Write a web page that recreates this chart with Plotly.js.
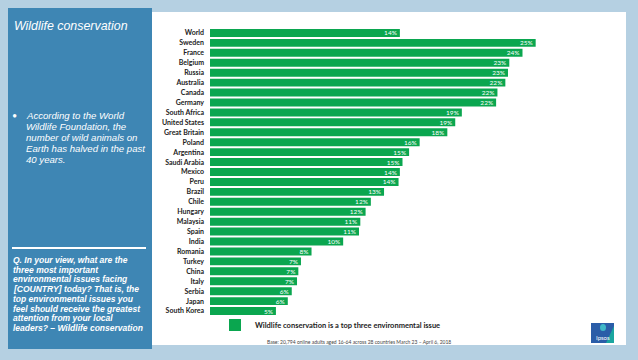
<!DOCTYPE html>
<html>
<head>
<meta charset="utf-8">
<script src="https://cdn.plot.ly/plotly-3.0.1.min.js"></script>
<style>html,body{margin:0;padding:0;background:#b5d0e2;}#chart{width:638px;height:360px;}</style>
</head>
<body>
<div id="chart"></div>
<script>
// ---- data ----
const countries = ["World","Sweden","France","Belgium","Russia","Australia","Canada","Germany","South Africa","United States","Great Britain","Poland","Argentina","Saudi Arabia","Mexico","Peru","Brazil","Chile","Hungary","Malaysia","Spain","India","Romania","Turkey","China","Italy","Serbia","Japan","South Korea"];
const shares = [14.4,24.7,23.7,22.7,22.6,22.4,21.8,21.7,19.1,18.6,18.0,15.9,15.1,14.6,14.4,14.3,13.2,12.2,11.8,11.4,11.3,10.1,7.7,6.9,6.7,6.6,6.2,5.9,5.0];
const seriesName = "Wildlife conservation is a top three environmental issue";
const panelTitle = "Wildlife conservation";
const bulletLines = ["According to the World","Wildlife Foundation, the","number of wild animals on","Earth has halved in the past","40 years."];
const questionLines = ["Q. In your view, what are the","three most important","environmental issues facing","[COUNTRY] today? That is, the","top environmental issues you","feel should receive the greatest","attention from your local","leaders? – Wildlife conservation"];
const baseNote = "Base: 20,794 online adults aged 16-64 across 28 countries March 23 – April 6, 2018";

// ---- layout geometry (pixels -> paper) ----
const W = 638, H = 360, mL = 210, mR = 72, mT = 28, mB = 44;
const pw = W - mL - mR, ph = H - mT - mB;
const X = px => (px - mL) / pw;
const Y = py => (H - mB - py) / ph;

const GREEN = "#0aa64f", BLUE = "#3e86b4", LIGHT = "#b5d0e2";
const FONT = "Lato, 'Open Sans', sans-serif";
const IFONT = "'Liberation Sans', 'DejaVu Sans', sans-serif";

const shapes = [
  {type:"rect", xref:"paper", yref:"paper", x0:X(0), x1:X(W), y0:Y(H), y1:Y(0), fillcolor:LIGHT, line:{width:0}, layer:"below"},
  {type:"rect", xref:"paper", yref:"paper", x0:X(8), x1:X(626), y0:Y(345), y1:Y(12), fillcolor:"#ffffff", line:{width:0}, layer:"below"},
  {type:"rect", xref:"paper", yref:"paper", x0:X(8), x1:X(152), y0:Y(349), y1:Y(8), fillcolor:BLUE, line:{width:0}, layer:"below"},
  {type:"line", xref:"paper", yref:"paper", x0:X(12), x1:X(146), y0:Y(248), y1:Y(248), line:{color:"#ffffff", width:2}},
  // Ipsos logo
  {type:"rect", xref:"paper", yref:"paper", x0:X(591), x1:X(614), y0:Y(343), y1:Y(323), fillcolor:"#2a5da8", line:{width:0}},
  {type:"path", xref:"paper", yref:"paper", path:`M ${X(606)} ${Y(343)} L ${X(614)} ${Y(343)} L ${X(614)} ${Y(326)} Z`, fillcolor:"#1aa6a0", line:{width:0}},
  {type:"circle", xref:"paper", yref:"paper", x0:X(600), x1:X(606), y0:Y(331), y1:Y(324), fillcolor:"#3fb8c8", line:{width:0}}
];

const annotations = [
  {xref:"paper", yref:"paper", x:X(12), y:Y(26), xanchor:"left", yanchor:"middle", showarrow:false, text:"<i>" + panelTitle + "</i>", font:{family:IFONT, size:12.4, color:"#ffffff"}},
  {xref:"paper", yref:"paper", x:X(10), y:Y(115), xanchor:"left", yanchor:"middle", showarrow:false, text:"•", font:{family:FONT, size:9, color:"#ffffff"}},
  {xref:"paper", yref:"paper", x:X(359), y:Y(342), xanchor:"center", yanchor:"middle", showarrow:false, text:baseNote, font:{family:FONT, size:5, color:"#444444"}},
  {xref:"paper", yref:"paper", x:X(603), y:Y(337), xanchor:"center", yanchor:"middle", showarrow:false, text:"Ipsos", font:{family:FONT, size:6, color:"#ffffff"}}
];
bulletLines.forEach((t,i) => annotations.push({xref:"paper", yref:"paper", x:X(24), y:Y(115 + i*11), xanchor:"left", yanchor:"middle", showarrow:false, text:"<i>" + t + "</i>", font:{family:IFONT, size:9.6, color:"#ffffff"}}));
questionLines.forEach((t,i) => annotations.push({xref:"paper", yref:"paper", x:X(11), y:Y(260 + i*9.7), xanchor:"left", yanchor:"middle", showarrow:false, text:"<i>" + t + "</i>", font:{family:IFONT, size:8.5, color:"#ffffff", weight:"bold"}}));

const trace = {
  type:"bar", orientation:"h", name:seriesName,
  y:countries, x:shares,
  marker:{color:GREEN, line:{width:0}},
  texttemplate:"%{x:.0f}%", textposition:"inside", insidetextanchor:"end",
  constraintext:"none",
  textfont:{family:FONT, size:6.5, color:"#ffffff"},
  hoverinfo:"none"
};

const layout = {
  width:W, height:H,
  margin:{l:mL, r:mR, t:mT, b:mB, pad:0},
  paper_bgcolor:LIGHT, plot_bgcolor:"rgba(0,0,0,0)",
  bargap:0.2,
  xaxis:{range:[0,27], visible:false, fixedrange:true},
  yaxis:{autorange:"reversed", showgrid:false, zeroline:false, showline:false, ticks:"", ticklabelstandoff:5,
         tickfont:{family:FONT, size:7, color:"#222222", weight:"bold"}},
  showlegend:true,
  legend:{orientation:"h", x:X(215), xanchor:"left", y:Y(325), yanchor:"middle", bgcolor:"rgba(0,0,0,0)",
          font:{family:FONT, size:7.5, color:"#222222", weight:"bold"}},
  shapes:shapes, annotations:annotations
};

Plotly.newPlot("chart", [trace], layout, {staticPlot:true, displayModeBar:false});
</script>
</body>
</html>
